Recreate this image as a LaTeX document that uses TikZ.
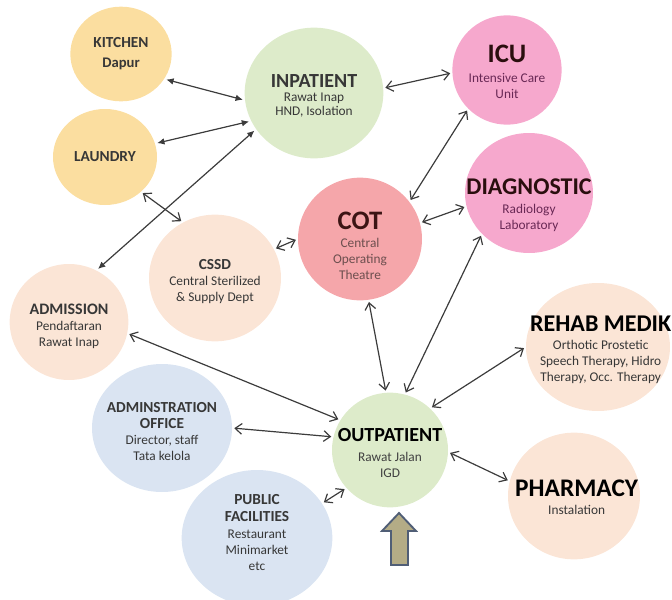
\documentclass[tikz,border=0pt]{standalone}
\usepackage{fontspec}
\setmainfont{Carlito}
\usetikzlibrary{arrows.meta, shapes.geometric}

\definecolor{kitchenyellow}{RGB}{251,222,160}
\definecolor{wardgreen}{RGB}{221,235,202}
\definecolor{icupink}{RGB}{246,168,205}
\definecolor{cotred}{RGB}{245,166,170}
\definecolor{peach}{RGB}{251,229,214}
\definecolor{officeblue}{RGB}{218,228,242}
\definecolor{linegray}{RGB}{60,60,60}
\definecolor{subgray}{RGB}{55,55,55}
\definecolor{maroon}{RGB}{60,20,20}
\definecolor{plum}{RGB}{105,40,85}
\definecolor{khaki}{RGB}{180,172,134}
\definecolor{slateblue}{RGB}{80,94,118}

% heading line: size, text
\newcommand{\hd}[2]{{\fontsize{#1}{#1}\selectfont\bfseries #2}}

\tikzset{
  unit/.style={ellipse, draw=none, inner sep=0pt},
  txt/.style={align=center, inner sep=0pt, text=subgray,
    font=\fontsize{10}{12}\selectfont},
  link/.style={<->, >={Straight Barb[length=5pt,width=8pt]}, draw=linegray,
    line width=0.9pt, shorten <=1.5pt, shorten >=1.5pt},
  solidlink/.style={link, >={Latex[length=5.5pt,width=5pt]}},
  entry/.style={draw=slateblue, fill=khaki, line width=1.4pt, line join=miter}
}

\begin{document}
\begin{tikzpicture}[x=0.75pt, y=-0.75pt]
  \useasboundingbox (0,0) rectangle (672,600);

  % support services
  \node[unit, fill=kitchenyellow, minimum width=76pt, minimum height=71pt,
    label={[txt]center:{\hd{11.5}{KITCHEN}\\[3pt]\hd{11}{Dapur}}}] (kitchen) at (121,54) {};
  \node[unit, fill=kitchenyellow, minimum width=78pt, minimum height=72pt,
    label={[txt]center:{\hd{11.5}{LAUNDRY}}}] (laundry) at (105,157) {};
  \node[unit, fill=peach, minimum width=99pt, minimum height=95pt,
    label={[txt, yshift=-3pt]center:{\hd{11.5}{CSSD}\\Central Sterilized\\\& Supply Dept}}] (cssd) at (215,278) {};

  % wards
  \node[unit, fill=wardgreen, minimum width=104pt, minimum height=98pt,
    label={[txt, yshift=-2.5pt, font=\fontsize{10}{10.5}\selectfont]center:{\hd{15}{INPATIENT}\\Rawat Inap\\HND, Isolation}}] (inpatient) at (314,93) {};
  \node[unit, fill=icupink, minimum width=82pt, minimum height=82pt,
    label={[txt, text=plum, yshift=-1.5pt]center:{\hd{20}{\textcolor{maroon!70!black}{ICU}}\\[3pt]Intensive Care\\Unit}}] (icu) at (507,70) {};
  \node[unit, fill=icupink, minimum width=96pt, minimum height=90pt,
    label={[txt, text=plum, yshift=-9pt]center:{\hd{18}{\textcolor{maroon!70!black}{DIAGNOSTIC}}\\[2pt]Radiology\\Laboratory}}] (diag) at (529,193) {};
  \node[unit, fill=cotred, minimum width=93pt, minimum height=92pt,
    label={[txt, text=maroon!75, yshift=-5pt]center:{\hd{20}{\textcolor{maroon}{COT}}\\[1pt]Central\\Operating\\Theatre}}] (cot) at (360,239) {};

  % front office
  \node[unit, fill=peach, minimum width=89pt, minimum height=87pt,
    label={[txt, yshift=-3pt]center:{\hd{12}{ADMISSION}\\Pendaftaran\\Rawat Inap}}] (admission) at (69,322) {};
  \node[unit, fill=officeblue, minimum width=105pt, minimum height=96pt,
    label={[txt, yshift=-3pt]center:{\hd{11.5}{ADMINSTRATION}\\\hd{11.5}{OFFICE}\\Director, staff\\Tata kelola}}] (office) at (162,428) {};
  \node[unit, fill=officeblue, minimum width=113pt, minimum height=102pt,
    label={[txt, yshift=4pt]center:{\hd{11.5}{PUBLIC}\\[1pt]\hd{11.5}{FACILITIES}\\[1pt]Restaurant\\Minimarket\\etc}}] (public) at (257,538) {};
  \node[unit, fill=wardgreen, minimum width=87pt, minimum height=86pt,
    label={[txt, text=black!75, yshift=-2pt]center:{\hd{15}{\textcolor{black}{OUTPATIENT}}\\[3pt]Rawat Jalan\\IGD}}] (outpatient) at (390,450) {};
  \node[unit, fill=peach, minimum width=108pt, minimum height=96pt,
    label={[txt, xshift=2pt, yshift=-2pt]center:{\hd{18}{\textcolor{black}{REHAB MEDIK}}\\[2pt]Orthotic Prostetic\\Speech Therapy, Hidro\\Therapy, Occ. Therapy}}] (rehab) at (598,347) {};
  \node[unit, fill=peach, minimum width=99pt, minimum height=95pt,
    label={[txt, xshift=2pt, yshift=-1pt]center:{\hd{19}{\textcolor{black}{PHARMACY}}\\[2pt]Instalation}}] (pharmacy) at (574,496) {};

  % links to inpatient
  \draw[solidlink] (kitchen.-30) -- (inpatient.186);
  \draw[solidlink] (laundry.15) -- (inpatient.204);
  \draw[solidlink] (admission.62) -- (inpatient.212);
  \draw[link] (laundry.-44) -- (cssd.120);
  \draw[link] (cssd.26) -- (cot.180);
  \draw[link] (inpatient.4) -- (icu.183);
  \draw[link] (icu.225) -- (cot.37);
  \draw[link] (cot.15) -- (diag.192);

  % links to outpatient
  \draw[link] (diag.221) -- (outpatient.75);
  \draw[link] (cot.278) -- (outpatient.94);
  \draw[link] (rehab.180) -- (outpatient.46);
  \draw[link] (pharmacy.167) -- (outpatient.-2);
  \draw[link] (admission.-11) -- (outpatient.149);
  \draw[link] (office.0) -- (outpatient.167);
  \draw[link] (public.28) -- (outpatient.221);

  % entrance arrow
  \draw[entry] (391,565) -- (391,531) -- (382,531) -- (399,513) -- (416,531)
    -- (408,531) -- (408,565) -- cycle;
\end{tikzpicture}
\end{document}
